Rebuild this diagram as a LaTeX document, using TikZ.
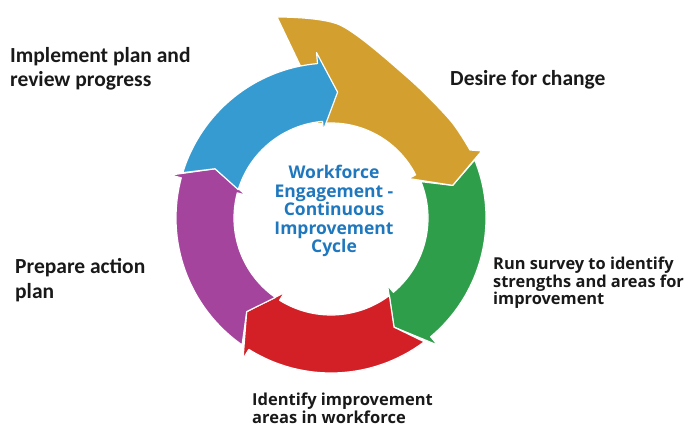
\documentclass[tikz,border=0pt]{standalone}
\usepackage{fontspec}
\setmainfont{Carlito}
\newfontfamily\osans{Open Sans}
\definecolor{cgold}{RGB}{211,160,48}
\definecolor{cgreen}{RGB}{46,158,74}
\definecolor{cred}{RGB}{211,32,39}
\definecolor{cpurple}{RGB}{164,68,156}
\definecolor{cblue}{RGB}{54,155,208}
\definecolor{ctext}{RGB}{31,120,190}

\begin{document}
\begin{tikzpicture}[x=1pt, y=1pt,
  seg/.style={draw=white, line width=1.2pt, line join=round},
  lab/.style={anchor=north west, inner sep=0pt, align=left, text=black!90}]
  \useasboundingbox (0,0) rectangle (688,428);
  \begin{scope}[shift={(331,210)}]
    % ring of arrows, clockwise
    \filldraw[seg, fill=cgreen] (22:155) arc[start angle=22, end angle=-50, radius=155pt] -- (-50:166) -- (-60:126) -- (-50:88) -- (-50:97) arc[start angle=-50, end angle=22, radius=97pt] -- (15:126) -- cycle;
    \filldraw[seg, fill=cred] (-53:155) arc[start angle=-53, end angle=-122, radius=155pt] -- (-122:166) -- (-132:126) -- (-122:88) -- (-122:97) arc[start angle=-122, end angle=-53, radius=97pt] -- (-60:126) -- cycle;
    \filldraw[seg, fill=cpurple] (-125:155) arc[start angle=-125, end angle=-195, radius=155pt] -- (-195:166) -- (-203:126) -- (-195:88) -- (-195:97) arc[start angle=-195, end angle=-125, radius=97pt] -- (-132:126) -- cycle;
    % the big one
    \filldraw[seg, fill=cgold] plot[smooth] coordinates {(-54,201) (9,193) (76,141) (119,98) (139,68)} -- (24:165) -- (15:126) -- (27:87) -- (27:95) arc[start angle=27, end angle=98, radius=95pt] -- (98:126) -- cycle;
    \filldraw[seg, fill=cblue] (163:155) arc[start angle=163, end angle=95, radius=155pt] -- (95:166) -- (87:126) -- (95:88) -- (95:97) arc[start angle=95, end angle=163, radius=97pt] -- (157:126) -- cycle;
  \end{scope}
  % labels
  \node[lab, font=\bfseries\fontsize{21.5}{24.5}\selectfont] (impl) at (10,381) {Implement plan and\\review progress};
  \node[lab, font=\bfseries\fontsize{21.5}{24.5}\selectfont] (desire) at (450,358) {Desire for change};
  \node[lab, font=\bfseries\fontsize{21.5}{25}\selectfont] (prep) at (15,170) {Prepare action\\plan};
  \node[lab, font=\osans\bfseries\fontsize{16.4}{16}\selectfont] (survey) at (493,171) {Run survey to identify\\strengths and areas for\\improvement};
  \node[lab, font=\osans\bfseries\fontsize{16.5}{15.5}\selectfont] (ident) at (252,35) {Identify improvement\\areas in workforce};
  \node[align=center, inner sep=0pt, text=ctext, font=\osans\bfseries\fontsize{17.5}{18.5}\selectfont] (cycle) at (334,217) {Workforce\\Engagement -\\Continuous\\Improvement\\Cycle};
\end{tikzpicture}
\end{document}
